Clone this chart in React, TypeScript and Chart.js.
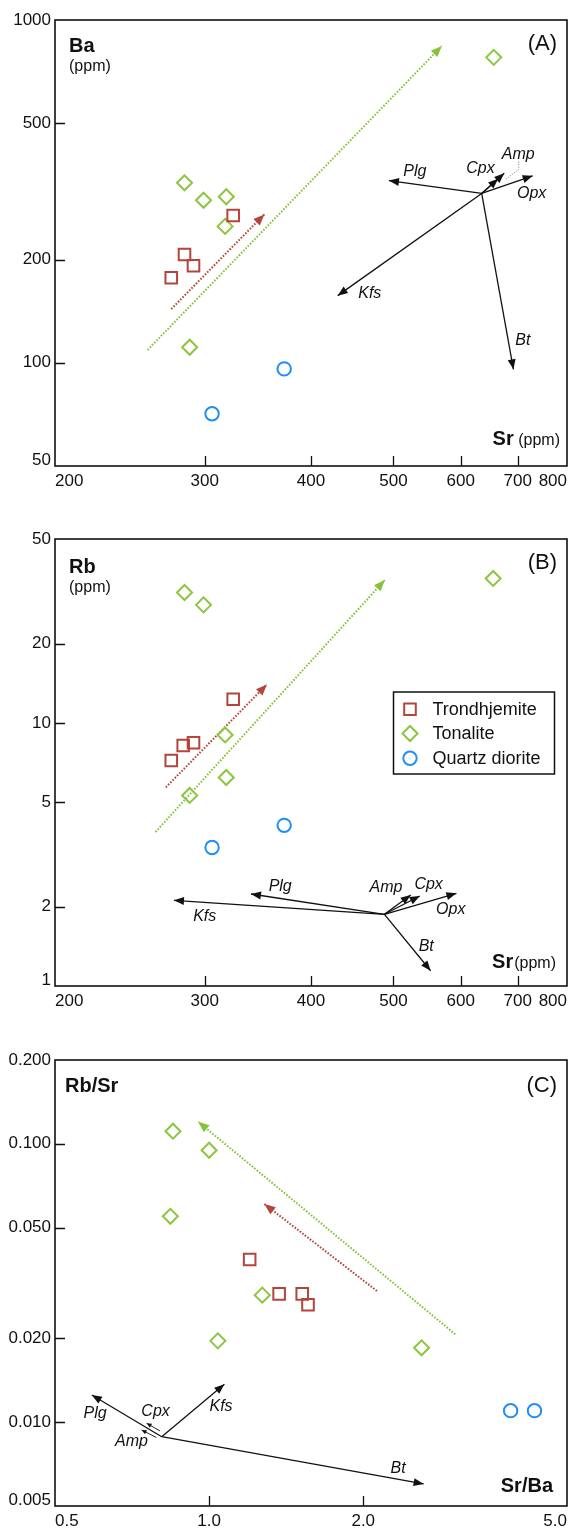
import React, { useEffect, useRef } from 'react';
import { Chart, registerables } from 'chart.js';

Chart.register(...registerables);

const FAMILY = '"Liberation Sans", Arial, Helvetica, sans-serif';

// ---------------- Panel A : Sr vs Ba ----------------
const A_trondSr = [324, 284, 291, 274];
const A_trondBa = [269, 207, 192, 177];
const A_tonSr = [284, 299, 318, 317, 656, 288];
const A_tonBa = [335, 298, 305, 250, 778, 111];
const A_qdSr = [372, 306];
const A_qdBa = [96, 71];

const AB_xTicks = [200, 300, 400, 500, 600, 700, 800];
const AB_xLabels = ['200', '300', '400', '500', '600', '700', '800'];
const A_yTicks = [50, 100, 200, 500, 1000];
const A_yLabels = ['50', '100', '200', '500', '1000'];

const A_vecOrigin = [635, 312];
const A_vecNames = ['Plg', 'Kfs', 'Bt', 'Opx', 'Cpx', 'Amp'];
const A_vecTipSr = [494, 430, 692, 729, 675, 664];
const A_vecTipBa = [340, 157, 95.7, 351, 357, 344];
const A_vecLabelSr = [530, 469, 710, 727, 633, 701];
const A_vecLabelBa = [361, 159.5, 116, 312, 369, 406];
const A_ampLeaderSr = [702, 702, 678];
const A_ampLeaderBa = [386, 367, 343];
const A_greenTrendSr = [257, 570];
const A_greenTrendBa = [109, 840];
const A_redTrendSr = [274, 352.5];
const A_redTrendBa = [143.5, 271];

// ---------------- Panel B : Sr vs Rb ----------------
const B_trondSr = [324, 283, 291, 274];
const B_trondRb = [12.3, 8.2, 8.4, 7.2];
const B_tonSr = [284, 299, 655, 317, 318, 288];
const B_tonRb = [31.3, 28.1, 35.4, 9.0, 6.2, 5.3];
const B_qdSr = [372, 306];
const B_qdRb = [4.08, 3.36];

const B_yTicks = [1, 2, 5, 10, 20, 50];
const B_yLabels = ['1', '2', '5', '10', '20', '50'];

const B_vecOrigin = [488, 1.873];
const B_vecNames = ['Plg', 'Kfs', 'Bt', 'Opx', 'Cpx', 'Amp'];
const B_vecTipSr = [340, 276, 553, 593, 537, 524];
const B_vecTipRb = [2.237, 2.117, 1.143, 2.25, 2.198, 2.218];
const B_vecLabelSr = [368, 300, 546.5, 584, 550, 490];
const B_vecLabelRb = [2.385, 1.833, 1.41, 1.945, 2.42, 2.372];
const B_greenTrendSr = [262.6, 488.4];
const B_greenTrendRb = [3.85, 34.9];
const B_redTrendSr = [270, 355];
const B_redTrendRb = [5.69, 14.0];

// ---------------- Panel C : Sr/Ba vs Rb/Sr ----------------
const C_trondSrBa = [1.2, 1.37, 1.52, 1.56];
const C_trondRbSr = [0.0384, 0.0289, 0.0289, 0.0264];
const C_tonSrBa = [0.85, 1.0, 0.84, 1.27, 1.04, 2.6];
const C_tonRbSr = [0.111, 0.0948, 0.0549, 0.0286, 0.0196, 0.0185];
const C_qdSrBa = [3.88, 4.32];
const C_qdRbSr = [0.011, 0.011];

const C_xTicks = [0.5, 1, 2, 5];
const C_xLabels = ['0.5', '1.0', '2.0', '5.0'];
const C_yTicks = [0.005, 0.01, 0.02, 0.05, 0.1, 0.2];
const C_yLabels = ['0.005', '0.010', '0.020', '0.050', '0.100', '0.200'];

const C_vecOrigin = [0.808, 0.00887];
const C_vecNames = ['Plg', 'Kfs', 'Bt'];
const C_vecTipSrBa = [0.59, 1.071, 2.624];
const C_vecTipRbSr = [0.01252, 0.01368, 0.006];
const C_smallNames = ['Cpx', 'Amp'];
const C_smallStartSrBa = [0.802, 0.789];
const C_smallStartRbSr = [0.0093, 0.00881];
const C_smallEndSrBa = [0.755, 0.738];
const C_smallEndRbSr = [0.00991, 0.00938];
const C_labelNames = ['Plg', 'Cpx', 'Amp', 'Kfs', 'Bt'];
const C_labelSrBa = [0.599, 0.786, 0.7055, 1.055, 2.339];
const C_labelRbSr = [0.01077, 0.01091, 0.00851, 0.01137, 0.00683];
const C_greenTrendSrBa = [3.025, 0.952];
const C_greenTrendRbSr = [0.0207, 0.12];
const C_redTrendSrBa = [2.127, 1.282];
const C_redTrendRbSr = [0.0296, 0.0608];

// ---------------- styles ----------------
const GROUP_STYLE: Record<string, { pointStyle: string; radius: number; width: number; color: string }> = {
  Trondhjemite: { pointStyle: 'rect', radius: 8.2, width: 2, color: '#b3453a' },
  Tonalite: { pointStyle: 'rectRot', radius: 7.5, width: 2, color: '#8cc63f' },
  'Quartz diorite': { pointStyle: 'circle', radius: 6.7, width: 2, color: '#1f8ef5' },
};

type Kind = 'vector' | 'small' | 'green' | 'red' | 'leader';
const ARROW_STYLE: Record<Kind, { color: string; width: number; dash: number[]; head: number; half: number }> = {
  vector: { color: '#111111', width: 1.3, dash: [], head: 10, half: 4 },
  small: { color: '#111111', width: 0.9, dash: [], head: 5, half: 2.2 },
  green: { color: '#86c23a', width: 2, dash: [1.6, 1.6], head: 11, half: 4.5 },
  red: { color: '#b3453a', width: 2, dash: [1.6, 1.6], head: 11, half: 4.5 },
  leader: { color: '#777777', width: 1, dash: [1, 1.5], head: 0, half: 0 },
};

type Group = { name: string; xs: number[]; ys: number[] };
type Vec = { xs: number[]; ys: number[]; kind: Kind };
type Lab = { text: string; x: number; y: number };
type TitlePart = { text: string; bold: boolean; size: number };
type Title = { parts: TitlePart[]; anchor: 'tl' | 'tr' | 'br'; dx: number; dy: number; gap?: number };

interface Panel {
  id: string;
  canvasTop: number;
  canvasHeight: number;
  areaTop: number;
  xAxisHeight: number;
  xMin: number; xMax: number; yMin: number; yMax: number;
  xTicks: number[]; xLabels: string[];
  yTicks: number[]; yLabels: string[];
  groups: Group[];
  vectors: Vec[];
  labels: Lab[];
  titles: Title[];
  legend: boolean;
}

const pair = (a: number, b: number) => [a, b];

const panelA: Panel = {
  id: 'A', canvasTop: 0, canvasHeight: 520, areaTop: 20, xAxisHeight: 54,
  xMin: 200, xMax: 800, yMin: 50, yMax: 1000,
  xTicks: AB_xTicks, xLabels: AB_xLabels, yTicks: A_yTicks, yLabels: A_yLabels,
  groups: [
    { name: 'Trondhjemite', xs: A_trondSr, ys: A_trondBa },
    { name: 'Tonalite', xs: A_tonSr, ys: A_tonBa },
    { name: 'Quartz diorite', xs: A_qdSr, ys: A_qdBa },
  ],
  vectors: [
    ...A_vecNames.map((_, i) => ({ xs: pair(A_vecOrigin[0], A_vecTipSr[i]), ys: pair(A_vecOrigin[1], A_vecTipBa[i]), kind: 'vector' as Kind })),
    { xs: A_ampLeaderSr, ys: A_ampLeaderBa, kind: 'leader' },
    { xs: A_greenTrendSr, ys: A_greenTrendBa, kind: 'green' },
    { xs: A_redTrendSr, ys: A_redTrendBa, kind: 'red' },
  ],
  labels: A_vecNames.map((n, i) => ({ text: n, x: A_vecLabelSr[i], y: A_vecLabelBa[i] })),
  titles: [
    { parts: [{ text: 'Ba', bold: true, size: 20 }], anchor: 'tl', dx: 14, dy: 32 },
    { parts: [{ text: '(ppm)', bold: false, size: 16 }], anchor: 'tl', dx: 14, dy: 51 },
    { parts: [{ text: '(A)', bold: false, size: 22 }], anchor: 'tr', dx: 10, dy: 30 },
    { parts: [{ text: 'Sr', bold: true, size: 20 }, { text: '(ppm)', bold: false, size: 16 }], anchor: 'br', dx: 7, dy: 21, gap: 4.5 },
  ],
  legend: false,
};

const panelB: Panel = {
  id: 'B', canvasTop: 520, canvasHeight: 520, areaTop: 19, xAxisHeight: 54,
  xMin: 200, xMax: 800, yMin: 1, yMax: 50,
  xTicks: AB_xTicks, xLabels: AB_xLabels, yTicks: B_yTicks, yLabels: B_yLabels,
  groups: [
    { name: 'Trondhjemite', xs: B_trondSr, ys: B_trondRb },
    { name: 'Tonalite', xs: B_tonSr, ys: B_tonRb },
    { name: 'Quartz diorite', xs: B_qdSr, ys: B_qdRb },
  ],
  vectors: [
    ...B_vecNames.map((_, i) => ({ xs: pair(B_vecOrigin[0], B_vecTipSr[i]), ys: pair(B_vecOrigin[1], B_vecTipRb[i]), kind: 'vector' as Kind })),
    { xs: B_greenTrendSr, ys: B_greenTrendRb, kind: 'green' },
    { xs: B_redTrendSr, ys: B_redTrendRb, kind: 'red' },
  ],
  labels: B_vecNames.map((n, i) => ({ text: n, x: B_vecLabelSr[i], y: B_vecLabelRb[i] })),
  titles: [
    { parts: [{ text: 'Rb', bold: true, size: 20 }], anchor: 'tl', dx: 14, dy: 33.5 },
    { parts: [{ text: '(ppm)', bold: false, size: 16 }], anchor: 'tl', dx: 14, dy: 52.5 },
    { parts: [{ text: '(B)', bold: false, size: 22 }], anchor: 'tr', dx: 10, dy: 29.5 },
    { parts: [{ text: 'Sr', bold: true, size: 20 }, { text: '(ppm)', bold: false, size: 16 }], anchor: 'br', dx: 11, dy: 18, gap: 1 },
  ],
  legend: true,
};

const panelC: Panel = {
  id: 'C', canvasTop: 1040, canvasHeight: 490, areaTop: 20, xAxisHeight: 24,
  xMin: 0.5, xMax: 5, yMin: 0.005, yMax: 0.2,
  xTicks: C_xTicks, xLabels: C_xLabels, yTicks: C_yTicks, yLabels: C_yLabels,
  groups: [
    { name: 'Trondhjemite', xs: C_trondSrBa, ys: C_trondRbSr },
    { name: 'Tonalite', xs: C_tonSrBa, ys: C_tonRbSr },
    { name: 'Quartz diorite', xs: C_qdSrBa, ys: C_qdRbSr },
  ],
  vectors: [
    ...C_vecNames.map((_, i) => ({ xs: pair(C_vecOrigin[0], C_vecTipSrBa[i]), ys: pair(C_vecOrigin[1], C_vecTipRbSr[i]), kind: 'vector' as Kind })),
    ...C_smallNames.map((_, i) => ({ xs: pair(C_smallStartSrBa[i], C_smallEndSrBa[i]), ys: pair(C_smallStartRbSr[i], C_smallEndRbSr[i]), kind: 'small' as Kind })),
    { xs: C_greenTrendSrBa, ys: C_greenTrendRbSr, kind: 'green' },
    { xs: C_redTrendSrBa, ys: C_redTrendRbSr, kind: 'red' },
  ],
  labels: C_labelNames.map((n, i) => ({ text: n, x: C_labelSrBa[i], y: C_labelRbSr[i] })),
  titles: [
    { parts: [{ text: 'Rb/Sr', bold: true, size: 20 }], anchor: 'tl', dx: 10, dy: 31.5 },
    { parts: [{ text: '(C)', bold: false, size: 22 }], anchor: 'tr', dx: 10, dy: 31.5 },
    { parts: [{ text: 'Sr/Ba', bold: true, size: 20 }], anchor: 'br', dx: 14, dy: 14.5 },
  ],
  legend: false,
};

const PANELS = [panelA, panelB, panelC];

function fontStr(size: number, bold = false, italic = false) {
  return `${italic ? 'italic ' : ''}${bold ? 'bold ' : ''}${size}px ${FAMILY}`;
}

function drawMarker(ctx: CanvasRenderingContext2D, style: string, x: number, y: number, r: number) {
  ctx.beginPath();
  if (style === 'rect') {
    const s = Math.SQRT1_2 * r;
    ctx.rect(x - s, y - s, 2 * s, 2 * s);
  } else if (style === 'rectRot') {
    ctx.moveTo(x - r, y);
    ctx.lineTo(x, y - r);
    ctx.lineTo(x + r, y);
    ctx.lineTo(x, y + r);
    ctx.closePath();
  } else {
    ctx.arc(x, y, r, 0, Math.PI * 2);
  }
  ctx.stroke();
}

function zeroPadding(s: any) {
  s.paddingLeft = 0;
  s.paddingRight = 0;
  s.paddingTop = 0;
  s.paddingBottom = 0;
}

function makePlugin(panel: Panel) {
  return {
    id: 'decor' + panel.id,
    afterDatasetsDraw(chart: any) {
      const ctx: CanvasRenderingContext2D = chart.ctx;
      chart.data.datasets.forEach((ds: any, i: number) => {
        const kind: Kind | undefined = ds.arrowKind;
        if (!kind) return;
        const st = ARROW_STYLE[kind];
        if (!st.head) return;
        const pts = chart.getDatasetMeta(i).data;
        const p0 = pts[pts.length - 2];
        const p1 = pts[pts.length - 1];
        const ang = Math.atan2(p1.y - p0.y, p1.x - p0.x);
        const bx = p1.x - Math.cos(ang) * st.head;
        const by = p1.y - Math.sin(ang) * st.head;
        const nx = -Math.sin(ang) * st.half;
        const ny = Math.cos(ang) * st.half;
        ctx.save();
        ctx.fillStyle = st.color;
        ctx.beginPath();
        ctx.moveTo(p1.x, p1.y);
        ctx.lineTo(bx + nx, by + ny);
        ctx.lineTo(bx - nx, by - ny);
        ctx.closePath();
        ctx.fill();
        ctx.restore();
      });
    },
    afterDraw(chart: any) {
      const ctx: CanvasRenderingContext2D = chart.ctx;
      const area = chart.chartArea;
      const xs = chart.scales.x;
      const ys = chart.scales.y;
      ctx.save();
      ctx.fillStyle = '#111';
      ctx.font = fontStr(16, false, true);
      ctx.textAlign = 'center';
      ctx.textBaseline = 'middle';
      panel.labels.forEach((l) => {
        ctx.fillText(l.text, xs.getPixelForValue(l.x), ys.getPixelForValue(l.y));
      });
      ctx.strokeStyle = '#111';
      ctx.lineWidth = 1.6;
      ctx.strokeRect(area.left, area.top, area.right - area.left, area.bottom - area.top);
      ctx.lineWidth = 1.3;
      ctx.beginPath();
      panel.xTicks.forEach((v) => {
        if (v <= panel.xMin || v >= panel.xMax) return;
        const px = Math.round(xs.getPixelForValue(v)) + 0.5;
        ctx.moveTo(px, area.bottom);
        ctx.lineTo(px, area.bottom - 10);
      });
      panel.yTicks.forEach((v) => {
        if (v <= panel.yMin || v >= panel.yMax) return;
        const py = Math.round(ys.getPixelForValue(v)) + 0.5;
        ctx.moveTo(area.left, py);
        ctx.lineTo(area.left + 10, py);
      });
      ctx.stroke();
      ctx.textBaseline = 'alphabetic';
      ctx.textAlign = 'left';
      panel.titles.forEach((t) => {
        const widths = t.parts.map((p) => {
          ctx.font = fontStr(p.size, p.bold);
          return ctx.measureText(p.text).width;
        });
        const gap = t.gap ?? 0;
        const total = widths.reduce((a, b) => a + b, 0) + gap * (t.parts.length - 1);
        let x = t.anchor === 'tl' ? area.left + t.dx : area.right - t.dx - total;
        const y = t.anchor === 'br' ? area.bottom - t.dy : area.top + t.dy;
        t.parts.forEach((p, k) => {
          ctx.font = fontStr(p.size, p.bold);
          ctx.fillText(p.text, x, y);
          x += widths[k] + gap;
        });
      });
      if (panel.legend) {
        const bw = 161;
        const bh = 82;
        const bx = area.right - 12.5 - bw;
        const by = area.top + 153;
        ctx.fillStyle = '#fff';
        ctx.fillRect(bx, by, bw, bh);
        ctx.strokeStyle = '#111';
        ctx.lineWidth = 1.5;
        ctx.strokeRect(bx, by, bw, bh);
        const rows = [17.3, 41.5, 66.3];
        panel.groups.forEach((g, i) => {
          const st = GROUP_STYLE[g.name];
          ctx.strokeStyle = st.color;
          ctx.lineWidth = st.width;
          drawMarker(ctx, st.pointStyle, bx + 16.5, by + rows[i], st.radius);
          ctx.fillStyle = '#111';
          ctx.font = fontStr(18);
          ctx.textAlign = 'left';
          ctx.textBaseline = 'middle';
          ctx.fillText(g.name, bx + 39, by + rows[i] + 1);
        });
      }
      ctx.restore();
    },
  };
}

function buildConfig(panel: Panel): any {
  const datasets: any[] = [];
  panel.groups.forEach((g) => {
    const st = GROUP_STYLE[g.name];
    datasets.push({
      label: g.name,
      data: g.xs.map((x, i) => ({ x, y: g.ys[i] })),
      showLine: false,
      pointStyle: st.pointStyle,
      pointRadius: st.radius,
      pointHoverRadius: st.radius,
      pointBorderWidth: st.width,
      pointBorderColor: st.color,
      pointBackgroundColor: 'rgba(0,0,0,0)',
      borderColor: st.color,
      backgroundColor: 'rgba(0,0,0,0)',
    });
  });
  panel.vectors.forEach((v) => {
    const st = ARROW_STYLE[v.kind];
    datasets.push({
      label: '',
      data: v.xs.map((x, i) => ({ x, y: v.ys[i] })),
      showLine: true,
      pointRadius: 0,
      pointHoverRadius: 0,
      borderColor: st.color,
      borderWidth: st.width,
      borderDash: st.dash,
      borderCapStyle: 'butt',
      fill: false,
      tension: 0,
      arrowKind: v.kind,
    });
  });

  return {
    type: 'scatter',
    data: { datasets },
    options: {
      responsive: false,
      animation: false,
      devicePixelRatio: 1,
      events: [],
      layout: { autoPadding: false, padding: { top: panel.areaTop, left: 0, right: 4, bottom: 0 } },
      plugins: { legend: { display: false }, tooltip: { enabled: false } },
      scales: {
        x: {
          type: 'logarithmic',
          position: 'bottom',
          min: panel.xMin,
          max: panel.xMax,
          afterBuildTicks: (s: any) => {
            s.ticks = panel.xTicks.map((v) => ({ value: v }));
          },
          afterFit: (s: any) => {
            s.height = panel.xAxisHeight;
            zeroPadding(s);
          },
          ticks: {
            align: 'inner',
            padding: 5,
            maxRotation: 0,
            minRotation: 0,
            autoSkip: false,
            color: '#111',
            font: { family: FAMILY, size: 17 },
            callback: (_v: any, i: number) => panel.xLabels[i],
          },
          grid: { display: false, drawTicks: false },
          border: { display: false },
        },
        y: {
          type: 'logarithmic',
          position: 'left',
          min: panel.yMin,
          max: panel.yMax,
          afterBuildTicks: (s: any) => {
            s.ticks = panel.yTicks.map((v) => ({ value: v }));
          },
          afterFit: (s: any) => {
            s.width = 55;
            zeroPadding(s);
          },
          ticks: {
            padding: 4,
            autoSkip: false,
            color: '#111',
            font: { family: FAMILY, size: 17, lineHeight: 0.65 },
            callback: (_v: any, i: number) => (i === 0 ? [panel.yLabels[i], ''] : panel.yLabels[i]),
          },
          grid: { display: false, drawTicks: false },
          border: { display: false },
        },
      },
    },
    plugins: [makePlugin(panel)],
  };
}

function PanelChart({ panel }: { panel: Panel }) {
  const ref = useRef<HTMLCanvasElement>(null);
  useEffect(() => {
    if (!ref.current) return;
    const chart = new Chart(ref.current, buildConfig(panel));
    return () => chart.destroy();
  }, [panel]);
  return (
    <canvas
      ref={ref}
      width={571}
      height={panel.canvasHeight}
      style={{ position: 'absolute', left: 0, top: panel.canvasTop, width: 571, height: panel.canvasHeight }}
    />
  );
}

export default function App() {
  return (
    <div style={{ position: 'absolute', left: 0, top: 0, width: 571, height: 1530, background: '#ffffff', overflow: 'hidden' }}>
      {PANELS.map((p) => (
        <PanelChart key={p.id} panel={p} />
      ))}
    </div>
  );
}
